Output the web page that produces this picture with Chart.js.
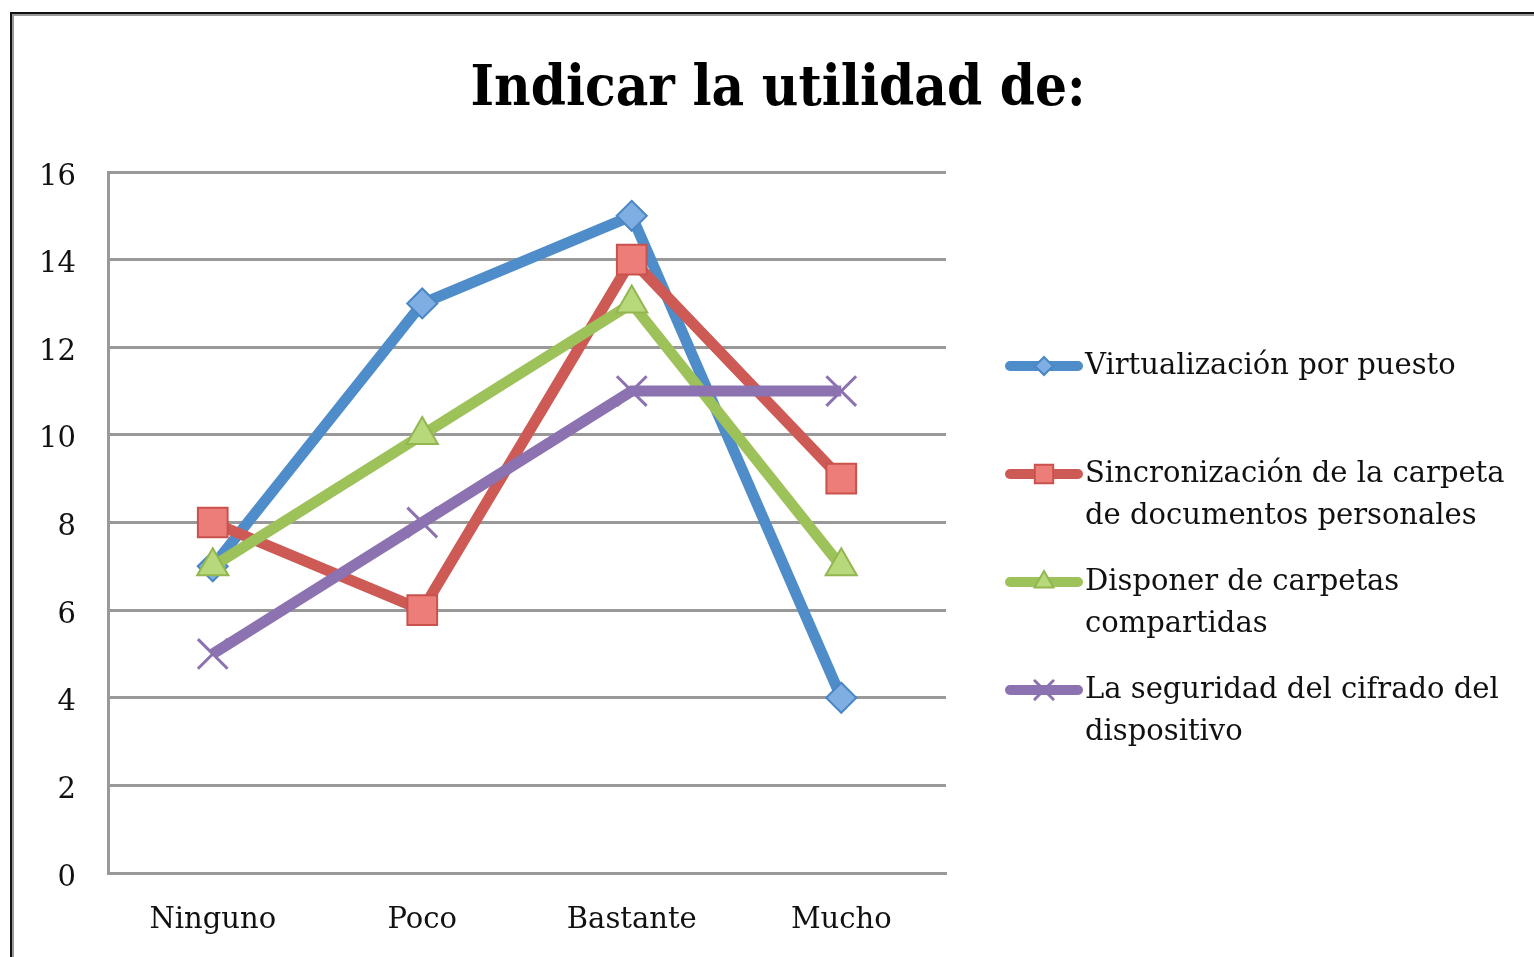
<!DOCTYPE html>
<html>
<head>
<meta charset="utf-8">
<script src="https://cdn.jsdelivr.net/npm/chart.js@4"></script>
<style>
  html, body { margin: 0; padding: 0; background: #fff; }
  #wrap { width: 1534px; height: 957px; }
</style>
</head>
<body>
<div id="wrap"><canvas id="grafico" width="1534" height="957"></canvas></div>
<script>
const titulo = "Indicar la utilidad de:";
const categorias = ["Ninguno", "Poco", "Bastante", "Mucho"];
const seriesNombres = [
  ["Virtualización por puesto"],
  ["Sincronización de la carpeta", "de documentos personales"],
  ["Disponer de carpetas", "compartidas"],
  ["La seguridad del cifrado del", "dispositivo"]
];
const virtualizacion = [7, 13, 15, 4];
const sincronizacion = [8, 6, 14, 9];
const carpetas = [7, 10, 13, 7];
const cifrado = [5, 8, 11, 11];
const ticksY = [0, 2, 4, 6, 8, 10, 12, 14, 16];

const serif = "'DejaVu Serif', serif";

const estilos = [
  { color: "#4F8DCA", relleno: "#7FAEE2", borde: "#4A86C5", punto: "rectRot", radio: 15, leyRadio: 9 },
  { color: "#CD5A54", relleno: "#EC7D79", borde: "#C9524D", punto: "rect", radio: 21, leyRadio: 13 },
  { color: "#9EC25A", relleno: "#B7D97C", borde: "#93B651", punto: "triangle", radio: 18, leyRadio: 11 },
  { color: "#8C72B0", relleno: "#8C72B0", borde: "#8C72B0", punto: "crossRot", radio: 21, leyRadio: 13 }
];

const valores = [virtualizacion, sincronizacion, carpetas, cifrado];

// las series posteriores se dibujan encima (como en Excel)
const datasets = valores.map((v, i) => ({
  label: seriesNombres[i].join(" "),
  data: v,
  order: valores.length - i,
  borderColor: estilos[i].color,
  backgroundColor: estilos[i].color,
  borderWidth: 11,
  borderJoinStyle: "miter",
  pointStyle: estilos[i].punto,
  pointRadius: estilos[i].radio,
  pointBackgroundColor: estilos[i].relleno,
  pointBorderColor: estilos[i].borde,
  pointBorderWidth: i === 3 ? 3 : 2,
  tension: 0
}));

// marco, titulo centrado y leyenda a la derecha
const marcoLeyenda = {
  id: "marcoLeyenda",
  afterDraw(chart) {
    const ctx = chart.ctx;
    ctx.save();
    ctx.strokeStyle = "#111";
    ctx.lineWidth = 2;
    ctx.strokeRect(11, 13, 1600, 1000);
    ctx.strokeStyle = "#9a9a9a";
    ctx.lineWidth = 2;
    ctx.strokeRect(13, 15, 1600, 1000);

    ctx.fillStyle = "#000";
    ctx.textAlign = "center";
    ctx.textBaseline = "middle";
    ctx.font = "bold 56px 'DejaVu Serif Condensed', " + serif;
    ctx.fillText(titulo, 778, 90);

    const x0 = 1005, x1 = 1083, xt = 1085;
    ctx.textAlign = "left";
    ctx.font = "29px " + serif;
    chart.data.datasets.forEach((ds, i) => {
      const y = 366 + i * 108;
      const e = estilos[i];
      ctx.strokeStyle = e.color;
      ctx.lineWidth = 10;
      ctx.lineCap = "round";
      ctx.beginPath();
      ctx.moveTo(x0 + 5, y);
      ctx.lineTo(x1 - 5, y);
      ctx.stroke();
      ctx.fillStyle = e.relleno;
      ctx.strokeStyle = e.borde;
      ctx.lineWidth = i === 3 ? 3 : 2;
      Chart.helpers.drawPoint(ctx, { pointStyle: e.punto, radius: e.leyRadio, borderWidth: ctx.lineWidth }, (x0 + x1) / 2, y);
      ctx.fillStyle = "#111";
      seriesNombres[i].forEach((linea, k) => {
        ctx.fillText(linea, xt, y + k * 42);
      });
    });
    ctx.restore();
  }
};

new Chart(document.getElementById("grafico"), {
  type: "line",
  data: { labels: categorias, datasets: datasets },
  plugins: [marcoLeyenda],
  options: {
    responsive: false,
    animation: false,
    layout: { padding: { left: 0, right: 588, top: 172, bottom: 0 } },
    plugins: {
      legend: { display: false },
      tooltip: { enabled: false },
      title: { display: false }
    },
    scales: {
      x: {
        offset: true,
        grid: { display: false, drawTicks: false },
        border: { display: true, color: "#999", width: 3 },
        ticks: { color: "#111", font: { family: serif, size: 29 }, padding: 30 },
        afterFit(scale) { scale.height = 84; }
      },
      y: {
        min: 0,
        max: 16,
        afterBuildTicks(scale) { scale.ticks = ticksY.map(v => ({ value: v })); },
        grid: { color: "#999", lineWidth: 3, drawTicks: false },
        border: { display: true, color: "#999", width: 3 },
        ticks: { color: "#111", font: { family: serif, size: 29 }, padding: 32, labelOffset: 5 },
        afterFit(scale) { scale.width = 108; }
      }
    }
  }
});
</script>
</body>
</html>
